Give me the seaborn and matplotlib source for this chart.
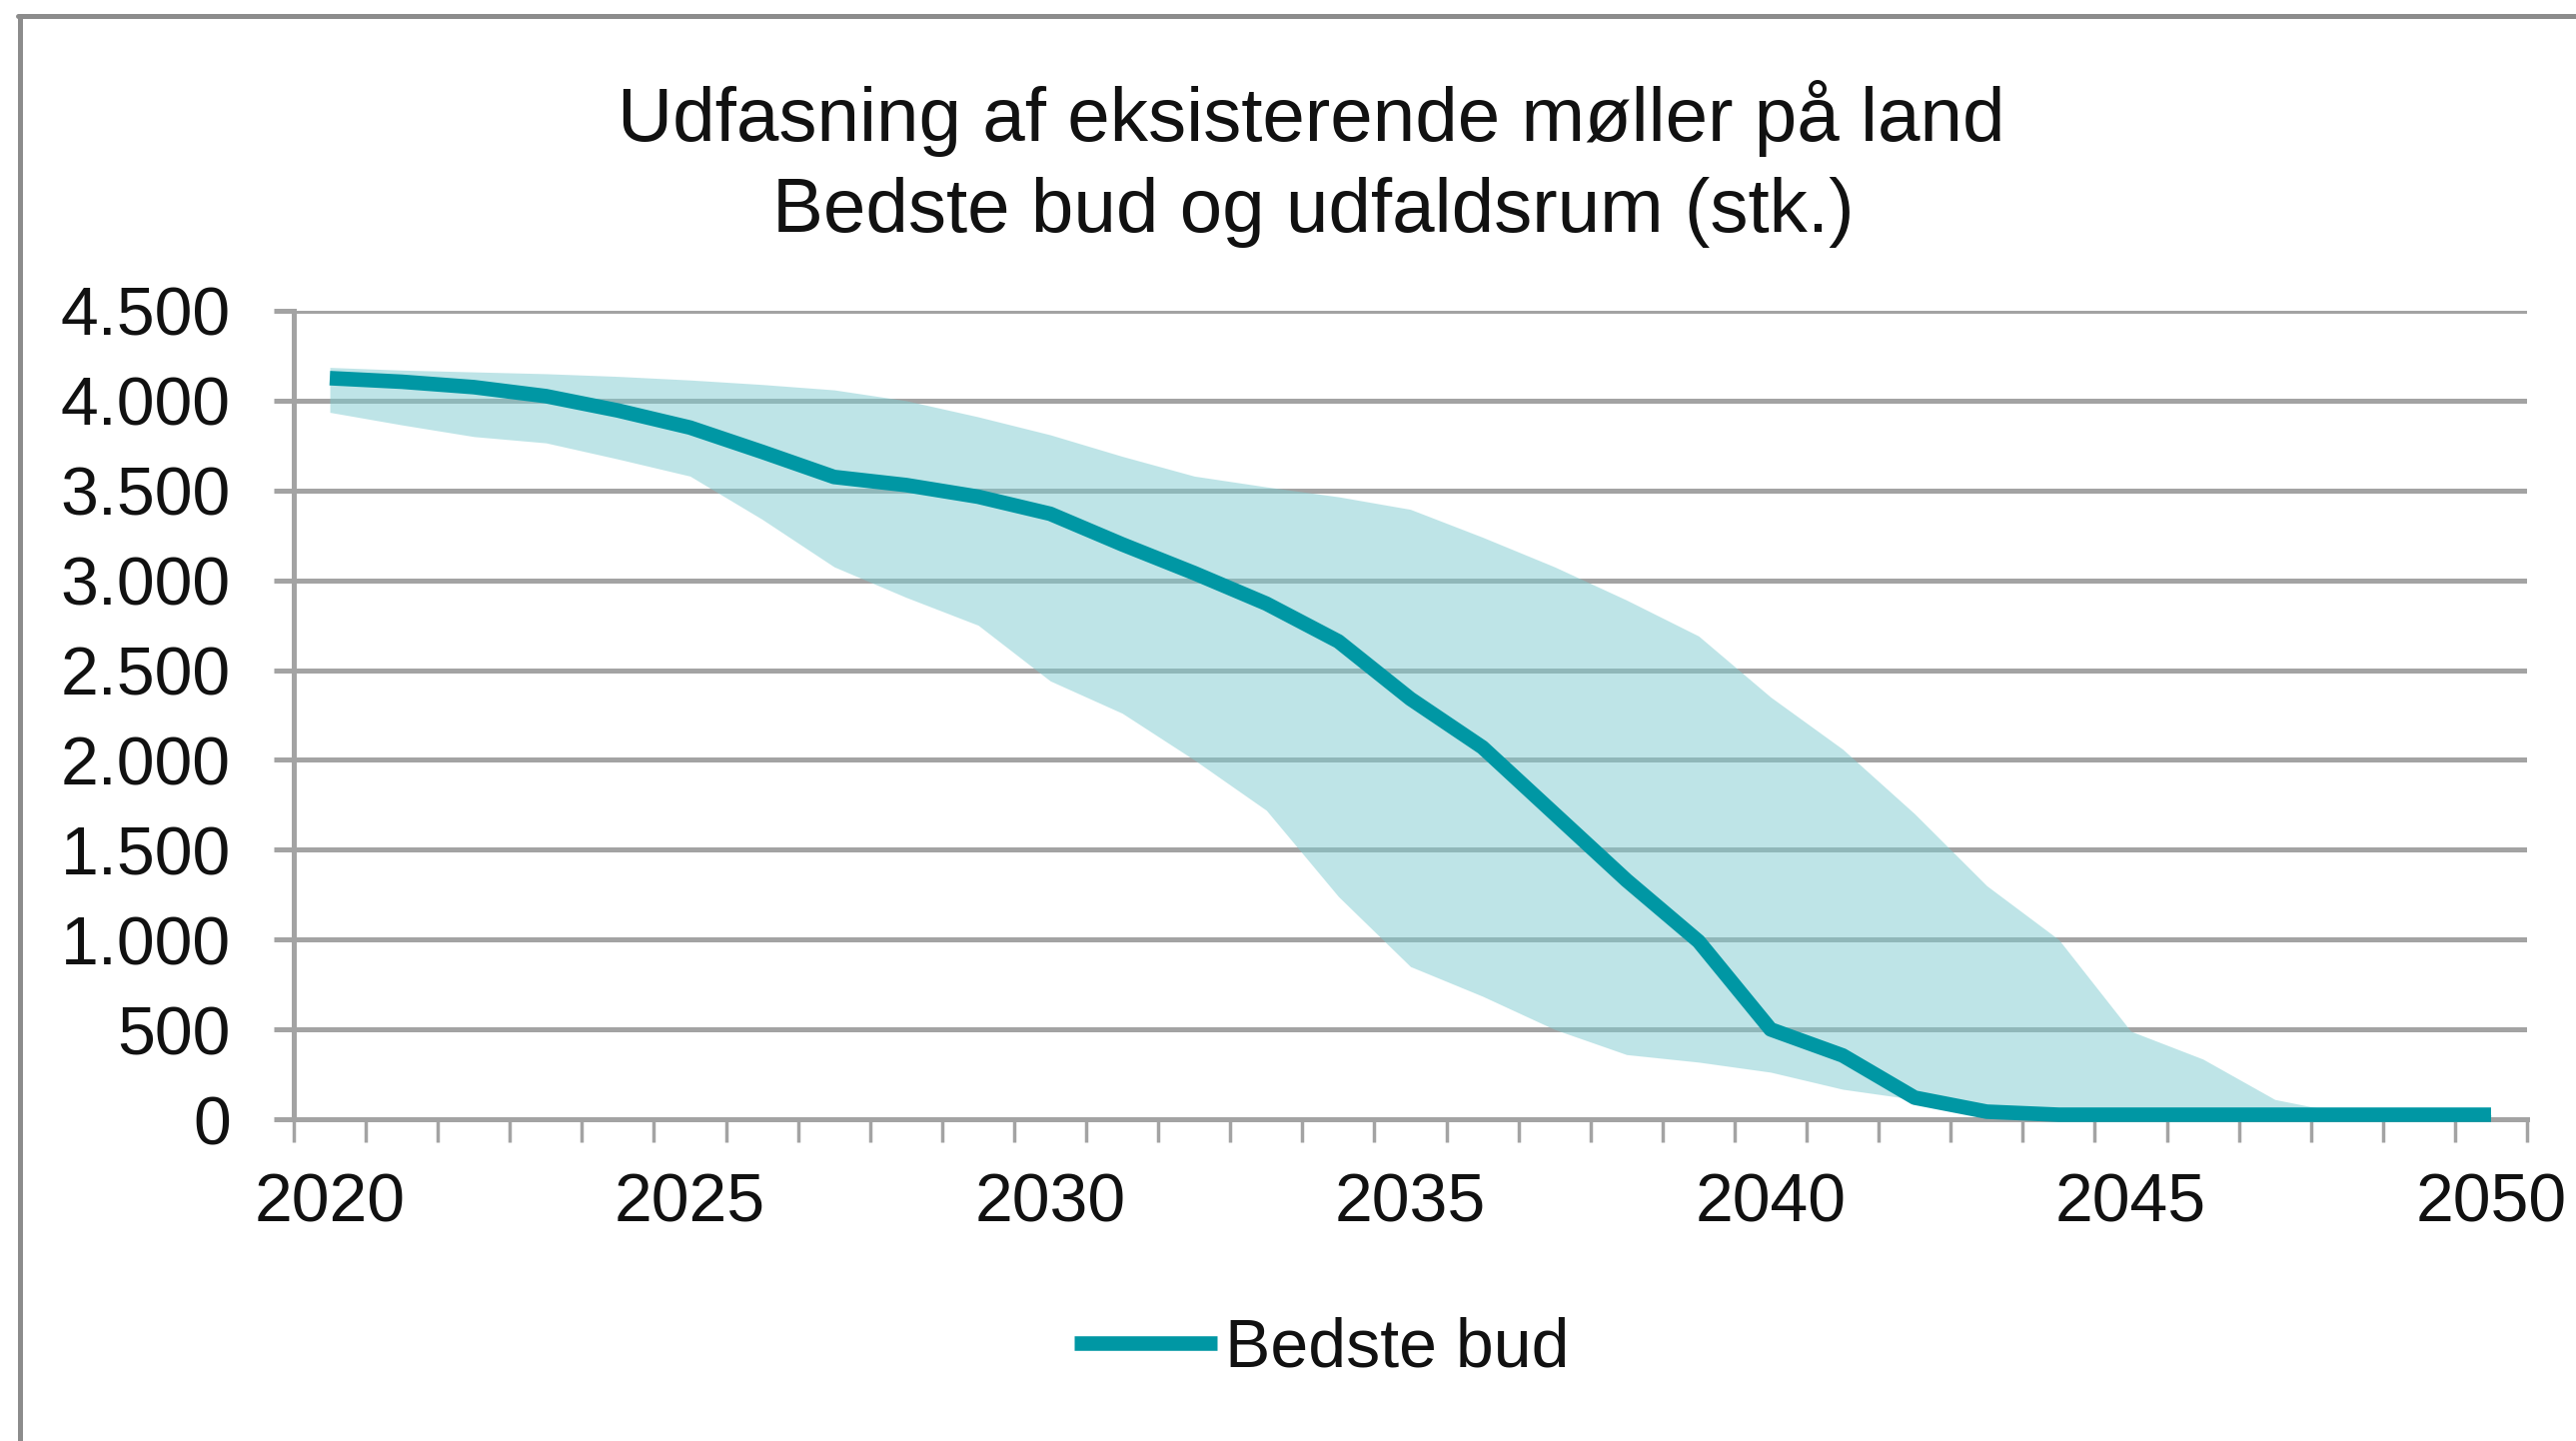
import numpy as np
import pandas as pd
import matplotlib
matplotlib.use("Agg")
import matplotlib.pyplot as plt
import matplotlib.ticker as mticker
from matplotlib.lines import Line2D
import seaborn as sns

# data (stk.)
years = list(range(2020, 2051))
bedste_bud = [4125, 4105, 4075, 4025, 3945, 3850, 3715, 3575, 3530, 3465,
              3370, 3200, 3040, 2870, 2660, 2340, 2070, 1700, 1330, 990,
              500, 355, 120, 42, 25, 25, 25, 25, 25, 25, 25]
udfald_hoej = [4185, 4170, 4160, 4150, 4135, 4115, 4090, 4060, 4000, 3910,
               3810, 3690, 3580, 3520, 3465, 3395, 3240, 3075, 2890, 2690,
               2350, 2060, 1700, 1300, 1000, 490, 335, 110, 30, 25, 25]
udfald_lav = [3935, 3865, 3800, 3765, 3675, 3580, 3340, 3075, 2905, 2750,
              2440, 2260, 2000, 1720, 1240, 850, 685, 500, 360, 318,
              262, 167, 110, 30, 0, 0, 0, 0, 0, 0, 0]
y_ticks = [0, 500, 1000, 1500, 2000, 2500, 3000, 3500, 4000, 4500]
x_labels = [2020, 2025, 2030, 2035, 2040, 2045, 2050]

df = pd.DataFrame({"år": years, "Bedste bud": bedste_bud,
                   "høj": udfald_hoej, "lav": udfald_lav})

sns.set_style("white")
plt.rcParams['font.family'] = ['Liberation Sans', 'DejaVu Sans']

line_col = "#0097a4"
grid_col = "#a3a3a3"
txt_col = "#111111"

fig = plt.figure(figsize=(25.78, 14.42), dpi=100)
ax = fig.add_axes([294/2578, 1-1120/1442, (2529-294)/2578, (1120-311)/1442])

# udfaldsrum (band)
ax.fill_between(df["år"], df["lav"], df["høj"], color="#7fcbd0", alpha=0.5,
                linewidth=0, zorder=2)
# bedste bud
sns.lineplot(data=df, x="år", y="Bedste bud", ax=ax, color=line_col,
             linewidth=10.5, label="Bedste bud", legend=False, zorder=4)
for l in ax.lines:
    l.set_solid_capstyle("butt")
    l.set_solid_joinstyle("round")
    l.set_clip_on(False)

ax.set_xlim(2019.5, 2050.5)
ax.set_ylim(0, 4500)
ax.set_xlabel("")
ax.set_ylabel("")

ax.set_yticks(y_ticks)
ax.yaxis.set_major_formatter(mticker.FuncFormatter(
    lambda v, p: f"{int(v):,}".replace(",", ".")))
ax.set_xticks(x_labels)
ax.set_xticks(np.arange(years[0] - 0.5, years[-1] + 1, 1), minor=True)

ax.grid(axis="y", color=grid_col, linewidth=3.6, zorder=1)
ax.grid(axis="x", visible=False)
ax.set_axisbelow(True)

for side in ["top", "right"]:
    ax.spines[side].set_visible(False)
for side in ["left", "bottom"]:
    ax.spines[side].set_color(grid_col)
    ax.spines[side].set_linewidth(3.6)

ax.tick_params(axis="y", which="major", direction="out", length=14.4,
               width=3.6, color=grid_col, pad=31, labelsize=49,
               labelcolor=txt_col, left=True)
ax.tick_params(axis="x", which="major", length=0, pad=38, labelsize=49,
               labelcolor=txt_col, bottom=True)
ax.tick_params(axis="x", which="minor", direction="out", length=16.5,
               width=2.5, color=grid_col, bottom=True)

# title (two lines)
fig.text(0.509, 1-141/1442, "Udfasning af eksisterende møller på land",
         ha="center", va="baseline", fontsize=55, color=txt_col)
fig.text(0.510, 1-232/1442, "Bedste bud og udfaldsrum (stk.)",
         ha="center", va="baseline", fontsize=55, color=txt_col)

# legend
handle = Line2D([0], [0], color=line_col, linewidth=10.5, solid_capstyle="butt")
fig.legend([handle], ["Bedste bud"], loc="center",
           bbox_to_anchor=(0.513, 1-1350/1442), frameon=False,
           fontsize=49, handlelength=2.1, handletextpad=0.12,
           labelcolor=txt_col)

# outer chart frame (top and left edges visible)
fig.add_artist(Line2D([18/2578, 1], [1-16/1442, 1-16/1442],
                      transform=fig.transFigure, color="#8c8c8c", linewidth=3.6))
fig.add_artist(Line2D([20/2578, 20/2578], [0, 1-16/1442],
                      transform=fig.transFigure, color="#8c8c8c", linewidth=3.6))

fig.savefig("out.png", dpi=100, facecolor="white")
